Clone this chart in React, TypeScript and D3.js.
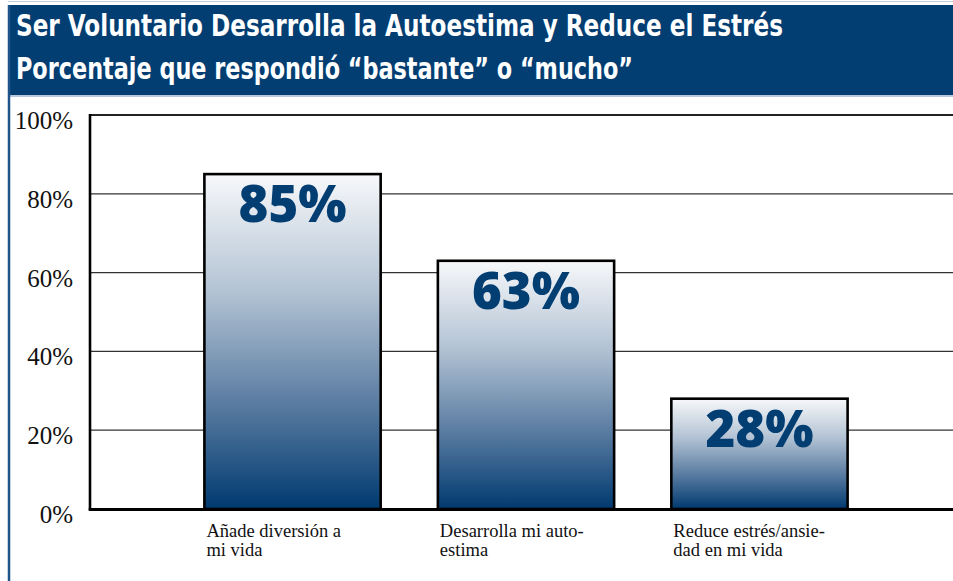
import React from "react";
import * as d3 from "d3";

const categories: string[][] = [
  ["Añade diversión a", "mi vida"],
  ["Desarrolla mi auto-", "estima"],
  ["Reduce estrés/ansie-", "dad en mi vida"],
];
const values: number[] = [85, 63, 28];
const valueLabels: string[] = ["85%", "63%", "28%"];
const yTicks: number[] = [0, 20, 40, 60, 80, 100];
const titleLines: string[] = [
  "Ser Voluntario Desarrolla la Autoestima y Reduce el Estrés",
  "Porcentaje que respondió “bastante” o “mucho”",
];

const W = 953;
const H = 581;
const NAVY = "#033e73";

export default function App() {
  const y = d3.scaleLinear().domain([0, 100]).range([509, 115]);
  const keys = categories.map((_, i) => String(i));
  const x = d3
    .scaleBand<string>()
    .domain(keys)
    .range([90, 962])
    .paddingInner(0.245)
    .paddingOuter(0.49);

  return (
    <svg
      width={W}
      height={H}
      style={{ position: "absolute", left: 0, top: 0, display: "block", background: "#fff" }}
    >
      <defs>
        <linearGradient id="barGrad" x1="0" y1="0" x2="0" y2="1">
          <stop offset="0%" stopColor="#f7f8fa" />
          <stop offset="35%" stopColor="#b3c3d4" />
          <stop offset="70%" stopColor="#56799f" />
          <stop offset="100%" stopColor="#003a70" />
        </linearGradient>
      </defs>
      {/* header band */}
      <line x1={8} x2={W} y1={1.5} y2={1.5} stroke="#c8cdd3" strokeWidth={1} />
      <rect x={8} y={5} width={W - 8} height={90} fill={NAVY} />
      <line x1={8} x2={W} y1={96} y2={96} stroke="#9fb6cf" strokeWidth={1.5} />
      <line x1={9} x2={9} y1={5} y2={H} stroke="#1f5488" strokeWidth={2.5} />
      {titleLines.map((t, i) => (
        <text
          key={i}
          x={16}
          y={i === 0 ? 36 : 79}
          fill="#fff"
          fontFamily="'Liberation Sans Narrow', 'DejaVu Sans Condensed', 'Roboto', sans-serif"
          fontWeight="bold"
          fontSize={30}
          textLength={i === 0 ? 767 : 617}
          lengthAdjust="spacingAndGlyphs"
        >
          {t}
        </text>
      ))}

      {/* gridlines */}
      {yTicks.filter((t) => t > 0).map((t) => (
        <line
          key={t}
          x1={90}
          x2={W}
          y1={y(t)}
          y2={y(t)}
          stroke={t === 100 ? "#222" : "#333"}
          strokeWidth={t === 100 ? 2.2 : 1.3}
        />
      ))}
      {/* y tick labels */}
      {yTicks.map((t) => (
        <text
          key={t}
          x={73}
          y={y(t) + 14}
          textAnchor="end"
          fontFamily="'Liberation Serif', 'DejaVu Serif', serif"
          fontSize={25}
          fill="#111"
        >
          {t}%
        </text>
      ))}

      {/* bars */}
      {values.map((v, i) => {
        const bx = x(keys[i])!;
        const bw = x.bandwidth();
        return (
          <g key={i}>
            <rect
              x={bx}
              y={y(v)}
              width={bw}
              height={y(0) - y(v)}
              fill="url(#barGrad)"
              stroke="#000"
              strokeWidth={2.6}
            />
            <text
              x={bx + bw / 2}
              y={y(v) + 48}
              textAnchor="middle"
              fontFamily="'Open Sans', 'DejaVu Sans', sans-serif"
              fontWeight={800}
              fontSize={52}
              fill={NAVY}
              textLength={108}
              lengthAdjust="spacingAndGlyphs"
            >
              {valueLabels[i]}
            </text>
            {categories[i].map((line, j) => (
              <text
                key={j}
                x={bx + 2}
                y={537 + j * 19}
                fontFamily="'Liberation Serif', 'DejaVu Serif', serif"
                fontSize={18.5}
                fill="#111"
              >
                {line}
              </text>
            ))}
          </g>
        );
      })}

      {/* axes */}
      <line x1={90} x2={90} y1={114} y2={510} stroke="#000" strokeWidth={2.6} />
      <line x1={88.7} x2={W} y1={509.5} y2={509.5} stroke="#000" strokeWidth={3.2} />
    </svg>
  );
}
